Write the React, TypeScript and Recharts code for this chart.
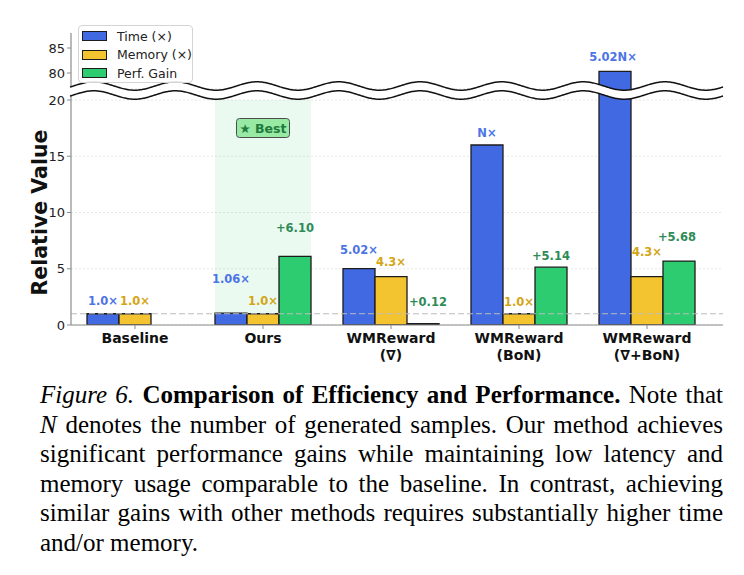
import { Bar, BarChart, CartesianGrid, LabelList, ReferenceArea, ReferenceLine, XAxis, YAxis } from "recharts";

const methods = ["Baseline", "Ours", "WMReward\n(∇)", "WMReward\n(BoN)", "WMReward\n(∇+BoN)"];
const timeCost = [1.0, 1.06, 5.02, 16, 80.32];
const memoryCost = [1.0, 1.0, 4.3, 1.0, 4.3];
const perfGain = [0, 6.1, 0.12, 5.14, 5.68];
const timeTags = ["1.0×", "1.06×", "5.02×", "N×", "5.02N×"];
const memoryTags = ["1.0×", "1.0×", "4.3×", "1.0×", "4.3×"];
const gainTags = ["", "+6.10", "+0.12", "+5.14", "+5.68"];
const seriesNames = ["Time (×)", "Memory (×)", "Perf. Gain"];
const lowerTicks = [0, 5, 10, 15, 20];
const upperTicks = [80, 85];

// how far each value tag floats above its bar (px), and small sideways nudges
const timeLift = [13, 34, 18.5, 12, 14.5];
const memoryLift = [13, 13, 15, 12, 25];
const gainLift = [0, 28.5, 22, 11.5, 24];
const timeNudge = [0, 0, 0, 0, -2];
const gainNudge = [0, 0, 5, 0, -2];

const BLUE = "#4169E1";
const GOLD = "#F4C430";
const GREEN = "#2ECC71";
const EDGE = "#1c1c1c";
const SPINE = "#8c8c8c";
const FONT = "'DejaVu Sans', sans-serif";

const LOWER_DOMAIN: [number, number] = [0, 21];
const UPPER_DOMAIN: [number, number] = [76.2, 88];
const X_PAD = { left: 0, right: 12 };

// wavy axis break
const WAVE_PERIOD = 81.6;
const WAVE_PEAK_X = 257;
const WAVE_AMP = 4.2;

function wavePoints(cy: number, from: number, to: number) {
  const pts: [number, number][] = [];
  for (let x = from; x <= to; x += 1) {
    pts.push([x, cy - WAVE_AMP * Math.cos((2 * Math.PI * (x - WAVE_PEAK_X)) / WAVE_PERIOD)]);
  }
  return pts;
}

function AxisBreak() {
  const upper = wavePoints(86, 70, 723);
  const lower = wavePoints(95, 70, 723);
  const line = (pts: [number, number][]) => pts.map(([x, y], i) => `${i ? "L" : "M"}${x},${y.toFixed(2)}`).join(" ");
  const gap = line(upper) + " " + [...lower].reverse().map(([x, y]) => `L${x},${y.toFixed(2)}`).join(" ") + " Z";
  return (
    <svg width={744} height={120} style={{ position: "absolute", left: 0, top: 0, pointerEvents: "none" }}>
      <path d={gap} fill="#fff" stroke="none" />
      <path d={line(upper)} fill="none" stroke="#111" strokeWidth={1.5} />
      <path d={line(lower)} fill="none" stroke="#111" strokeWidth={1.5} />
    </svg>
  );
}

// zero-height and empty bars get no label entry, so locate the category by its value
// when that value is unique, otherwise fall back to the entry's own index
function tagRenderer(
  values: number[],
  tags: string[],
  lifts: number[],
  nudges: number[] | null,
  color: string,
  visible: (i: number) => boolean
) {
  return (props: any) => {
    const first = values.indexOf(props.value);
    const i = first >= 0 && values.lastIndexOf(props.value) === first ? first : props.index;
    const box = props.viewBox ?? props;
    const { x, y, width } = box;
    if (i == null || i < 0 || !tags[i] || !visible(i) || !Number.isFinite(y)) return null;
    return (
      <text
        x={x + width / 2 + (nudges ? nudges[i] : 0)}
        y={y - lifts[i]}
        dy="0.36em"
        textAnchor="middle"
        fill={color}
        fontSize={11.5}
        fontWeight="bold"
        fontFamily={FONT}
      >
        {tags[i]}
      </text>
    );
  };
}

function MethodTick({ x, y, payload }: any) {
  const lines = String(payload.value).split("\n");
  return (
    <text x={x} y={y} textAnchor="middle" fontSize={14} fontWeight="bold" fill="#111" fontFamily={FONT}>
      {lines.map((line, i) => (
        <tspan key={i} x={x} dy={i === 0 ? 12 : 17}>
          {line}
        </tspan>
      ))}
    </text>
  );
}

function BestBand(props: any) {
  const { x, y, width, height } = props;
  const left = x + 16;
  const w = width - 32;
  const cx = left + w / 2;
  return (
    <g>
      <rect x={left} y={y} width={w} height={height} fill={GREEN} fillOpacity={0.1} />
      <rect x={cx - 26.5} y={y + 18.5} width={53} height={19} rx={3} fill="#97E9A4" stroke="#4d4d4d" strokeWidth={1} />
      <text x={cx} y={y + 28} dy="0.36em" textAnchor="middle" fontSize={12.5} fontWeight="bold" fill="#1f7a3c" fontFamily={FONT}>
        ★ Best
      </text>
    </g>
  );
}

const tickStyle = { fontSize: 13, fill: "#222", fontFamily: FONT };

export default function App() {
  const rows = methods.map((method, i) => ({
    method,
    time: timeCost[i],
    memory: memoryCost[i],
    gain: perfGain[i]
  }));
  // only bars that rise past the lower panel show up in the upper one
  const upperRows = methods.map((method, i) => ({
    method,
    time: timeCost[i] > LOWER_DOMAIN[1] ? timeCost[i] : null
  }));
  const inLower = (i: number) => timeCost[i] <= LOWER_DOMAIN[1];
  const inUpper = (i: number) => timeCost[i] > LOWER_DOMAIN[1];
  const hasGain = (i: number) => perfGain[i] > 0;
  const always = () => true;

  const legendColors = [BLUE, GOLD, GREEN];

  return (
    <div
      style={{
        position: "absolute",
        left: 0,
        top: 0,
        width: 744,
        height: 575,
        background: "#fff",
        fontFamily: FONT
      }}
    >
      <div style={{ position: "absolute", left: 0, top: 0 }}>
        <BarChart
          width={744}
          height={375}
          data={rows}
          margin={{ top: 88.75, right: 21, bottom: 10, left: 31 }}
          barCategoryGap={16}
          barGap={0}
        >
          <CartesianGrid horizontal vertical={false} stroke="#e6e6e6" strokeDasharray="2 2" />
          <ReferenceArea x1="Ours" x2="Ours" y1={0} y2={20} shape={(p: any) => <BestBand {...p} />} />
          <ReferenceLine y={1} stroke="#bdbdbd" strokeWidth={1.2} strokeDasharray="6 3" />
          <XAxis
            dataKey="method"
            interval={0}
            height={40}
            padding={X_PAD}
            tick={<MethodTick />}
            tickSize={4}
            tickLine={{ stroke: SPINE }}
            axisLine={{ stroke: SPINE, strokeWidth: 1.2 }}
          />
          <YAxis
            domain={LOWER_DOMAIN}
            ticks={lowerTicks}
            allowDataOverflow
            width={40}
            tickSize={4}
            tickMargin={2}
            tick={tickStyle}
            tickLine={{ stroke: SPINE }}
            axisLine={{ stroke: SPINE, strokeWidth: 1.2 }}
            label={{
              content: () => (
                <text
                  transform="translate(40,212.5) rotate(-90)"
                  textAnchor="middle"
                  dominantBaseline="central"
                  fontSize={20.5}
                  fontWeight="bold"
                  fill="#111"
                  fontFamily={FONT}
                >
                  Relative Value
                </text>
              )
            }}
          />
          <Bar dataKey="time" name={seriesNames[0]} fill={BLUE} stroke={EDGE} strokeWidth={1.3} isAnimationActive={false}>
            <LabelList dataKey="time" content={tagRenderer(timeCost, timeTags, timeLift, timeNudge, "#4D74E6", inLower)} />
          </Bar>
          <Bar dataKey="memory" name={seriesNames[1]} fill={GOLD} stroke={EDGE} strokeWidth={1.3} isAnimationActive={false}>
            <LabelList dataKey="memory" content={tagRenderer(memoryCost, memoryTags, memoryLift, null, "#D4A514", always)} />
          </Bar>
          <Bar dataKey="gain" name={seriesNames[2]} fill={GREEN} stroke={EDGE} strokeWidth={1.3} isAnimationActive={false}>
            <LabelList dataKey="gain" content={tagRenderer(perfGain, gainTags, gainLift, gainNudge, "#2E8B57", hasGain)} />
          </Bar>
        </BarChart>
      </div>

      <div style={{ position: "absolute", left: 0, top: 0 }}>
        <BarChart
          width={744}
          height={100}
          data={upperRows}
          margin={{ top: 33, right: 21, bottom: 8, left: 31 }}
          barCategoryGap={16}
          barGap={0}
        >
          <XAxis dataKey="method" hide padding={X_PAD} />
          <YAxis
            domain={UPPER_DOMAIN}
            ticks={upperTicks}
            allowDataOverflow
            width={40}
            tickSize={4}
            tickMargin={2}
            tick={tickStyle}
            tickLine={{ stroke: SPINE }}
            axisLine={{ stroke: SPINE, strokeWidth: 1.2 }}
          />
          <Bar dataKey="time" fill={BLUE} stroke={EDGE} strokeWidth={1.3} isAnimationActive={false}>
            <LabelList dataKey="time" content={tagRenderer(timeCost, timeTags, timeLift, timeNudge, "#4D74E6", inUpper)} />
          </Bar>
          <Bar dataKey="memory" fill={GOLD} isAnimationActive={false} />
          <Bar dataKey="gain" fill={GREEN} isAnimationActive={false} />
        </BarChart>
      </div>

      <AxisBreak />

      <div
        style={{
          position: "absolute",
          left: 78,
          top: 25,
          width: 115,
          height: 58,
          boxSizing: "border-box",
          border: "1px solid #d4d4d4",
          borderRadius: 4,
          background: "rgba(255,255,255,0.9)",
          paddingTop: 1
        }}
      >
        {seriesNames.map((name, i) => (
          <div key={name} style={{ display: "flex", alignItems: "center", height: 18.5 }}>
            <span
              style={{
                display: "inline-block",
                marginLeft: 3,
                width: 25,
                height: 10,
                boxSizing: "border-box",
                background: legendColors[i],
                border: `1px solid ${EDGE}`
              }}
            />
            <span style={{ marginLeft: 10, fontSize: 12.5, color: "#222", whiteSpace: "nowrap" }}>{name}</span>
          </div>
        ))}
      </div>

      <div
        style={{
          position: "absolute",
          left: 40,
          top: 380,
          width: 683,
          fontFamily: "'Liberation Serif', 'Times New Roman', serif",
          fontSize: 25,
          lineHeight: "29.5px",
          color: "#000"
        }}
      >
        {[
          <>
            <i>Figure 6.</i> <b>Comparison of Efficiency and Performance.</b> Note that
          </>,
          <>
            <i>N</i> denotes the number of generated samples. Our method achieves
          </>,
          <>significant performance gains while maintaining low latency and</>,
          <>memory usage comparable to the baseline. In contrast, achieving</>,
          <>similar gains with other methods requires substantially higher time</>
        ].map((line, i) => (
          <div key={i} style={{ textAlign: "justify", textAlignLast: "justify" }}>
            {line}
          </div>
        ))}
        <div>and/or memory.</div>
      </div>
    </div>
  );
}
